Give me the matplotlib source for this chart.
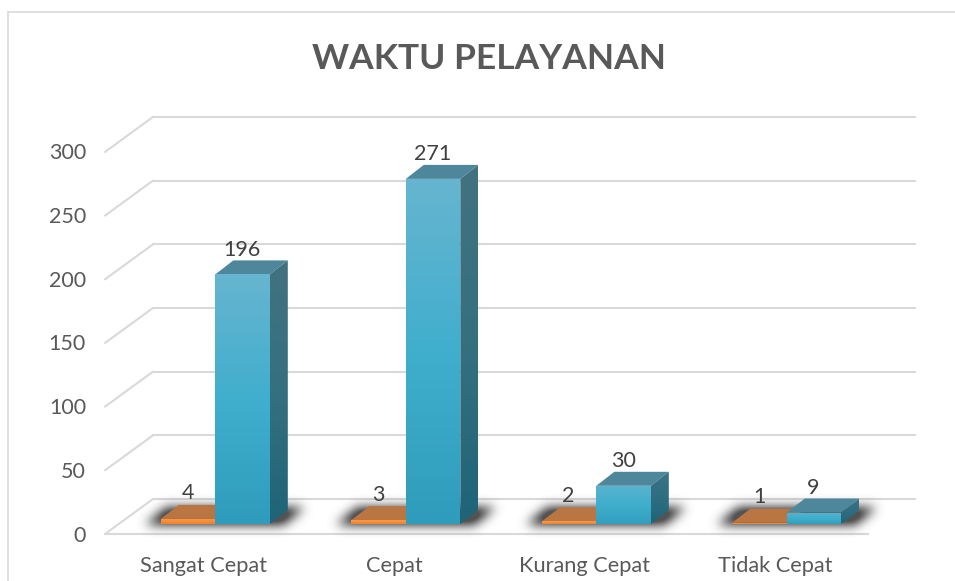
import numpy as np
import matplotlib
matplotlib.use("Agg")
import matplotlib.pyplot as plt
from matplotlib.lines import Line2D
from matplotlib.colors import LinearSegmentedColormap
from matplotlib.patches import Polygon

plt.rcParams['font.family'] = ['Lato', 'DejaVu Sans']

categories = ["Sangat Cepat", "Cepat", "Kurang Cepat", "Tidak Cepat"]
series_orange = [4, 3, 2, 1]
series_blue = [196, 271, 30, 9]
y_ticks = [0, 50, 100, 150, 200, 250, 300]
title = "WAKTU PELAYANAN"

W, H = 955, 581
PX_X0, PX_Y0 = 215.3, 524.0   # pixel of category 0, value 0
SX, SY = 190.5, 1.2735        # pixels per category, pixels per value unit
BAR = 54.5 / SX
DEPTH = (18 / SX, 14 / SY)

fig = plt.figure(figsize=(W / 100, H / 100), dpi=100, facecolor="white")
ax = fig.add_axes([0, 0, 1, 1])
ax.axis("off")
XLIM = ((0 - PX_X0) / SX, (W - PX_X0) / SX)
YLIM = ((PX_Y0 - H) / SY, PX_Y0 / SY)


def ox(px):
    return px / SX


def oy(px):
    return px / SY


GRID = "#D9D9D9"
TXT = "#595959"
LBL = "#404040"

# chart frame
fig.add_artist(Line2D([8 / W, 8 / W], [0, 1 - 12 / H], color=GRID, lw=1.2))
fig.add_artist(Line2D([8 / W, 1], [1 - 12 / H, 1 - 12 / H], color=GRID, lw=1.2))

# walls and floor
front_l, front_r = (105 - PX_X0) / SX, (868 - PX_X0) / SX
back_l, back_r = (153 - PX_X0) / SX, (915 - PX_X0) / SX
front_dy, back_dy = oy(-10), oy(25)
for v in y_ticks:
    ax.plot([front_l, back_l], [v + front_dy, v + back_dy], color=GRID, lw=1.5, zorder=1, solid_capstyle="round")
    ax.plot([back_l, back_r], [v + back_dy, v + back_dy], color=GRID, lw=1.5, zorder=1)
    ax.text((86 - PX_X0) / SX, v + front_dy - oy(1.5), str(v), ha="right", va="center", fontsize=15.5, color=TXT)
ax.plot([front_l, front_r], [front_dy, front_dy], color=GRID, lw=1.5, zorder=1)


def shadow(i):
    # soft floor shadow around the pair of bars
    x = np.arange(0, 210)
    y = np.arange(0, 50)
    xx, yy = np.meshgrid(x, y)
    skew = (yy - 37) * (-24 / 19)
    mask = ((xx - skew > 24) & (xx - skew < 162) & (yy > 19) & (yy < 37)).astype(float)
    k = np.exp(-0.5 * (np.arange(-16, 17) / 5.5) ** 2)
    k /= k.sum()
    blur = np.apply_along_axis(lambda r: np.convolve(r, k, mode="same"), 0, mask)
    blur = np.apply_along_axis(lambda r: np.convolve(r, k, mode="same"), 1, blur)
    rgba = np.zeros(blur.shape + (4,))
    rgba[..., :3] = 0.25
    rgba[..., 3] = np.clip(blur * 1.25, 0, 0.9)
    left = i + (120 - PX_X0) / SX
    right = left + 210 / SX
    top = oy(PX_Y0 - 488)
    bottom = top - oy(50)
    ax.imshow(rgba, extent=(left, right, bottom, top), zorder=2, interpolation="bilinear", aspect="auto")


def grad_face(pts, top_col, mid_col, bot_col, z):
    cmap = LinearSegmentedColormap.from_list("g", [bot_col, mid_col, top_col])
    xs = [p[0] for p in pts]
    ys = [p[1] for p in pts]
    im = ax.imshow(np.linspace(1, 0, 64)[:, None], cmap=cmap, vmin=0, vmax=1,
                   extent=(min(xs), max(xs), min(ys), max(ys)), zorder=z, aspect="auto")
    poly = Polygon(pts, closed=True, transform=ax.transData, fc="none", ec="none")
    ax.add_patch(poly)
    im.set_clip_path(poly)


def bar3d(left, v, front, top, side, z):
    right = left + BAR
    dx, dy = DEPTH
    ax.add_patch(Polygon([(left, v), (right, v), (right + dx, v + dy), (left + dx, v + dy)],
                         fc=top, ec="none", zorder=z))
    grad_face([(right, 0), (right + dx, dy), (right + dx, v + dy), (right, v)], *side, z)
    grad_face([(left, 0), (right, 0), (right, v), (left, v)], *front, z + 0.1)


for i in range(len(categories)):
    shadow(i)

for i, (a, b) in enumerate(zip(series_orange, series_blue)):
    bar3d(i - BAR, a, ("#F99A4A", "#F98F38", "#E8822C"), "#BA7642", ("#9A5F30", "#9A5F30", "#8A5228"), 3)
    if b > 100:
        front = ("#66B5D0", "#40AECD", "#2F9CBB")
        side = ("#42727F", "#35707F", "#1F6478")
    else:
        front = ("#5AB3CF", "#40AECD", "#329FBF")
        side = ("#3A7386", "#2F6E82", "#1F6478")
    bar3d(i, b, front, "#4E879B", side, 4)
    ax.annotate(str(a), (i - BAR / 2, a), xytext=(-0.5 * 0.72, 25.5 * 0.72), textcoords="offset points",
                ha="center", va="center", fontsize=15.5, color=LBL, zorder=6)
    ax.annotate(str(b), (i + BAR / 2, b), xytext=(-0.5 * 0.72, 24.5 * 0.72), textcoords="offset points",
                ha="center", va="center", fontsize=15.5, color=LBL, zorder=6)
    ax.text(i + ox(-11.5), oy(PX_Y0 - 565.5), categories[i], ha="center", va="center", fontsize=15.7, color=TXT)

fig.text(488.5 / W, 1 - 59 / H, title, ha="center", va="center", fontsize=25.5, fontweight="bold", color=TXT)

ax.set_xlim(*XLIM)
ax.set_ylim(*YLIM)
ax.set_aspect("auto")
fig.savefig("out.png", dpi=100, facecolor="white")
